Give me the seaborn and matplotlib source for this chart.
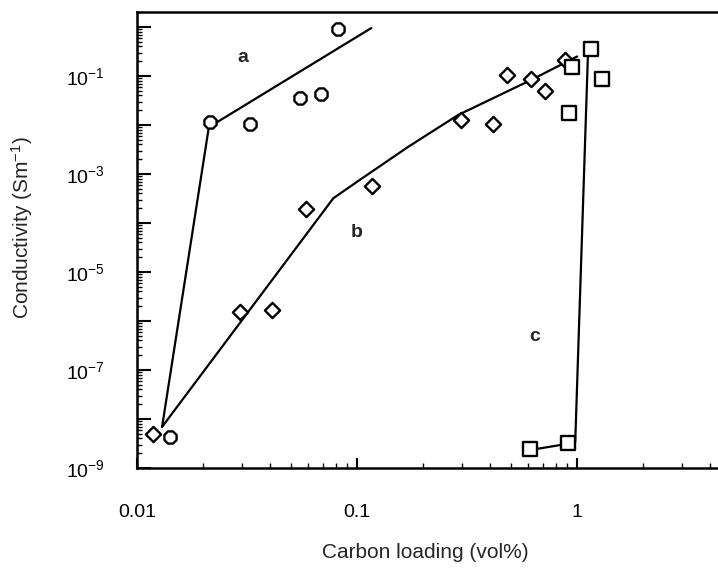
import numpy as np
import pandas as pd
import matplotlib
matplotlib.use("Agg")
import matplotlib.pyplot as plt
import seaborn as sns
from matplotlib.ticker import FixedLocator, FixedFormatter, LogLocator, NullFormatter

# ---- data ----
a_x = [0.0141, 0.0215, 0.0327, 0.0551, 0.0686, 0.082]
a_y = [4.3e-9, 0.0115, 0.0105, 0.0356, 0.043, 0.91]

b_x = [0.0118, 0.0294, 0.041, 0.0586, 0.117, 0.297, 0.415, 0.481, 0.618, 0.716, 0.88]
b_y = [4.9e-9, 1.5e-6, 1.7e-6, 1.9e-4, 5.7e-4, 0.0127, 0.0105, 0.105, 0.087, 0.049, 0.21]

c_x = [0.61, 0.91, 0.92, 0.95, 1.16, 1.29]
c_y = [2.4e-9, 3.2e-9, 0.0176, 0.153, 0.356, 0.087]

# fitted guide lines
fa_x = [0.013, 0.0212, 0.116]
fa_y = [6.9e-9, 0.009, 0.95]
fb_x = [0.013, 0.078, 0.103, 0.171, 0.288, 0.618, 1.0]
fb_y = [6.9e-9, 3.2e-4, 7.6e-4, 0.0036, 0.016, 0.083, 0.25]
fc_x = [0.6, 0.9, 0.98, 1.12]
fc_y = [2.3e-9, 3.1e-9, 3.4e-9, 0.3]

x_ticks = [0.01, 0.1, 1]
x_ticklabels = ["0.01", "0.1", "1"]
y_ticks = [1e-9, 1e-8, 1e-7, 1e-6, 1e-5, 1e-4, 1e-3, 1e-2, 1e-1, 1e0]
y_ticklabels = [r"$10^{-9}$", "", r"$10^{-7}$", "", r"$10^{-5}$", "",
                r"$10^{-3}$", "", r"$10^{-1}$", ""]

curve_labels = ["a", "b", "c"]
label_x = [0.0303, 0.1, 0.64]
label_y = [0.24, 6.3e-5, 4.9e-7]

# ---- style ----
sns.set_style("white")
plt.rcParams["font.family"] = ["Liberation Sans", "DejaVu Sans"]
plt.rcParams["mathtext.fontset"] = "custom"
plt.rcParams["mathtext.rm"] = "Liberation Sans"
plt.rcParams["mathtext.it"] = "Liberation Sans"
plt.rcParams["mathtext.bf"] = "Liberation Sans:bold"

fig = plt.figure(figsize=(7.18, 5.69), dpi=100)
ax = fig.add_axes([137/718, 101/569, (731-137)/718, 456/569])

lw = 1.6
for fx, fy in [(fa_x, fa_y), (fb_x, fb_y), (fc_x, fc_y)]:
    df = pd.DataFrame({"x": fx, "y": fy})
    sns.lineplot(data=df, x="x", y="y", ax=ax, sort=False, estimator=None,
                 color="black", linewidth=lw, zorder=2)

ms = 90
sns.scatterplot(x=a_x, y=a_y, ax=ax, marker="8", s=ms, facecolor="white",
                edgecolor="black", linewidth=1.7, zorder=3)
sns.scatterplot(x=b_x, y=b_y, ax=ax, marker="D", s=60, facecolor="white",
                edgecolor="black", linewidth=1.7, zorder=3)
sns.scatterplot(x=c_x, y=c_y, ax=ax, marker="s", s=ms, facecolor="white",
                edgecolor="black", linewidth=1.7, zorder=3)

for t, lx, ly in zip(curve_labels, label_x, label_y):
    ax.text(lx, ly, t, fontsize=14, fontweight="bold", ha="center", va="center")

ax.set_xscale("log")
ax.set_yscale("log")
ax.set_xlim(0.01, 5)
ax.set_ylim(1e-9, 2.02)

ax.xaxis.set_major_locator(FixedLocator(x_ticks))
ax.xaxis.set_major_formatter(FixedFormatter(x_ticklabels))
ax.xaxis.set_minor_locator(LogLocator(base=10, subs=np.arange(2, 10), numticks=20))
ax.xaxis.set_minor_formatter(NullFormatter())
ax.yaxis.set_major_locator(FixedLocator(y_ticks))
ax.yaxis.set_major_formatter(FixedFormatter(y_ticklabels))
ax.yaxis.set_minor_locator(LogLocator(base=10, subs=np.arange(2, 10), numticks=30))
ax.yaxis.set_minor_formatter(NullFormatter())

ax.tick_params(axis="both", which="both", direction="in", colors="black",
               bottom=True, left=True, top=False, right=False, labelsize=14)
ax.tick_params(axis="x", which="major", length=7, width=1.5, pad=26)
ax.tick_params(axis="y", which="major", length=10, width=1.5, pad=23)
ax.tick_params(axis="both", which="minor", length=3.5, width=1.0)

for s in ["left", "bottom", "top"]:
    ax.spines[s].set_color("black")
    ax.spines[s].set_linewidth(1.8)
ax.spines["right"].set_visible(False)

ax.set_xlabel("Carbon loading (vol%)", fontsize=15)
ax.set_ylabel("Conductivity (Sm$^{-1}$)", fontsize=15)
ax.xaxis.set_label_coords((425-137)/594, -(553-468)/456)
ax.yaxis.set_label_coords(-(137-22)/594, (468-228)/456)
ax.xaxis.label.set_va("center")
ax.yaxis.label.set_va("center")

fig.savefig("out.png", dpi=100)
